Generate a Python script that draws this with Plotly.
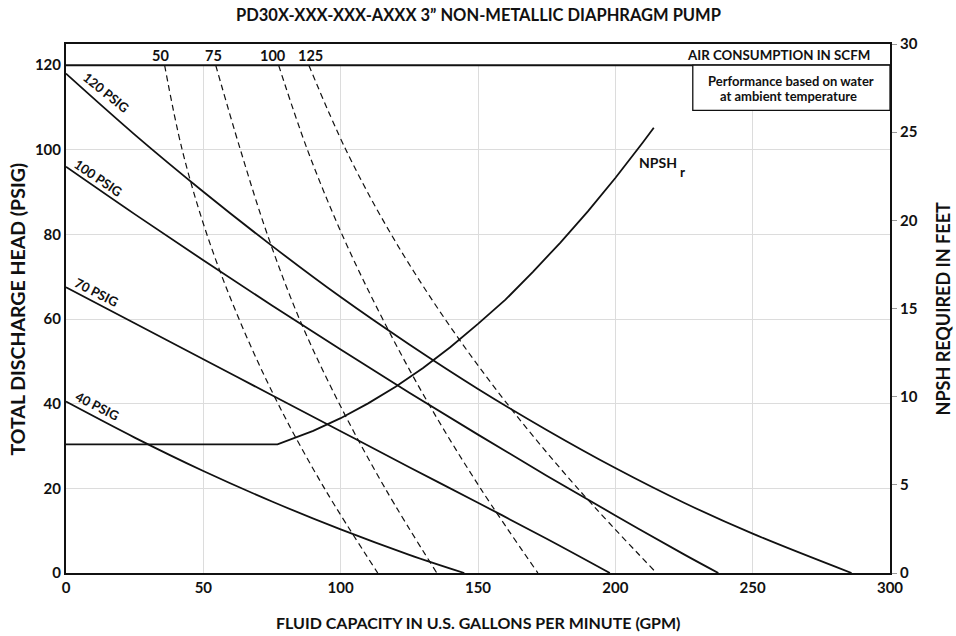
import plotly.graph_objects as go

# ---- data ----
psig120_x = [0, 25, 50, 75, 100, 125, 150, 175, 200, 225, 250, 286]
psig120_y = [118, 103.6, 90.1, 77.3, 65.2, 54.0, 43.5, 33.8, 24.8, 16.6, 9.3, 0]
psig100_x = [0, 25, 50, 75, 100, 125, 150, 175, 200, 225, 237.5]
psig100_y = [96, 84.8, 73.9, 63.2, 52.8, 42.6, 32.7, 23.0, 13.6, 4.4, 0]
psig70_x = [0, 25, 50, 75, 100, 125, 150, 175, 198]
psig70_y = [67.5, 59.0, 50.5, 42.0, 33.5, 25.0, 16.6, 8.1, 0]
psig40_x = [0, 25, 50, 75, 100, 125, 145]
psig40_y = [40.5, 32.0, 24.1, 16.9, 10.3, 4.3, 0]

air_y = [120, 100, 80, 60, 40, 20, 0]
air50_x = [35.9, 42.3, 51.3, 63.0, 77.2, 94.1, 113.5]
air75_x = [54.5, 63.5, 73.3, 85.0, 99.5, 116.2, 135.0]
air100_x = [77.4, 87.9, 100.5, 115.3, 132.0, 150.9, 171.8]
air125_x = [88.4, 101.9, 118.4, 138.0, 160.6, 186.3, 215.0]

npsh_x = [0, 77, 90, 100, 110, 120, 130, 140, 150, 160, 170, 180, 190, 200, 210, 214]
npsh_y = [7.3, 7.3, 8.06, 8.78, 9.62, 10.56, 11.63, 12.82, 14.13, 15.5, 17.08, 18.74, 20.51, 22.4, 24.41, 25.25]

x_ticks = [0, 50, 100, 150, 200, 250, 300]
y_ticks = [0, 20, 40, 60, 80, 100, 120]
y2_ticks = [0, 5, 10, 15, 20, 25, 30]

psig_labels = ["120 PSIG", "100 PSIG", "70 PSIG", "40 PSIG"]
psig_label_x = [14.4, 11.8, 11.0, 11.5]
psig_label_y = [113.6, 93.3, 66.3, 39.5]
psig_label_angle = [39, 34, 27, 27]

air_labels = ["50", "75", "100", "125"]
air_label_x = [34.4, 53.7, 75.2, 89.0]

FONT = "Lato"
BLACK = "#111111"

fig = go.Figure()

for xs, ys in [(psig120_x, psig120_y), (psig100_x, psig100_y),
               (psig70_x, psig70_y), (psig40_x, psig40_y)]:
    fig.add_trace(go.Scatter(x=xs, y=ys, mode="lines",
                             line=dict(color=BLACK, width=1.8, shape="spline", smoothing=1),
                             showlegend=False, hoverinfo="skip"))

for xs in [air50_x, air75_x, air100_x, air125_x]:
    fig.add_trace(go.Scatter(x=xs, y=air_y, mode="lines",
                             line=dict(color=BLACK, width=1.2, dash="6px,4px", shape="spline", smoothing=1),
                             showlegend=False, hoverinfo="skip"))

fig.add_trace(go.Scatter(x=npsh_x, y=npsh_y, yaxis="y2", mode="lines",
                         line=dict(color=BLACK, width=1.8),
                         showlegend=False, hoverinfo="skip"))

tickfont = dict(family=FONT, size=15, color=BLACK, weight="bold")

fig.update_layout(
    width=956, height=636,
    margin=dict(l=66, r=66, t=44, b=63),
    paper_bgcolor="white", plot_bgcolor="white",
    xaxis=dict(range=[0, 300], tickvals=x_ticks, showgrid=True, gridcolor="#dcdcdc", gridwidth=1,
               zeroline=False, showline=True, linecolor=BLACK, linewidth=2, mirror=True,
               ticks="", tickfont=tickfont, fixedrange=True),
    yaxis=dict(range=[0, 125], tickvals=y_ticks, showgrid=True, gridcolor="#dcdcdc", gridwidth=1,
               zeroline=False, showline=True, linecolor=BLACK, linewidth=2, mirror=True,
               ticks="", tickfont=tickfont, fixedrange=True),
    yaxis2=dict(range=[0, 30], tickvals=y2_ticks, overlaying="y", side="right", showgrid=False,
                zeroline=False, showline=True, linecolor=BLACK, linewidth=2,
                ticks="outside", ticklen=5, tickcolor="#999999", tickfont=tickfont, fixedrange=True),
)

# air band (white over gridlines) and separator line at 120
fig.add_shape(type="rect", xref="x", yref="y", x0=0, x1=300, y0=120, y1=125,
              fillcolor="white", line=dict(width=0), layer="between")
fig.add_shape(type="line", xref="x", yref="y", x0=0, x1=300, y0=120, y1=120,
              line=dict(color=BLACK, width=2), layer="above")
# performance box
fig.add_shape(type="rect", xref="x", yref="y", x0=228.2, x1=300, y0=109.3, y1=120,
              fillcolor="white", line=dict(color=BLACK, width=1.3), layer="above")

ann = []
for t, x, y, a in zip(psig_labels, psig_label_x, psig_label_y, psig_label_angle):
    ann.append(dict(text=t, x=x, y=y, xref="x", yref="y", showarrow=False, textangle=a,
                    font=dict(family=FONT, size=13, color=BLACK, weight="bold")))
for t, x in zip(air_labels, air_label_x):
    ann.append(dict(text=t, x=x, y=122.4, xref="x", yref="y", showarrow=False,
                    font=dict(family=FONT, size=14.5, color=BLACK, weight="bold")))
ann.append(dict(text="AIR CONSUMPTION IN SCFM", x=293.4, y=122.4, xref="x", yref="y", xanchor="right",
                showarrow=False, font=dict(family=FONT, size=13.3, color=BLACK, weight="bold")))
ann.append(dict(text="Performance based on water", x=264, y=116.3,
                xref="x", yref="y", showarrow=False,
                font=dict(family=FONT, size=13, color=BLACK, weight="bold")))
ann.append(dict(text="at ambient temperature", x=263, y=112.8,
                xref="x", yref="y", showarrow=False,
                font=dict(family=FONT, size=13, color=BLACK, weight="bold")))
ann.append(dict(text="NPSH", x=207.8, y=23.3, xref="x", yref="y2", xanchor="left",
                showarrow=False, font=dict(family=FONT, size=14, color=BLACK, weight="bold")))
ann.append(dict(text="r", x=224.3, y=22.75, xref="x", yref="y2", xanchor="center",
                showarrow=False, font=dict(family=FONT, size=13.5, color=BLACK, weight="bold")))
ann.append(dict(text="PD30X-XXX-XXX-AXXX 3\u201d NON-METALLIC DIAPHRAGM PUMP", x=0.5, y=1.0548,
                xref="paper", yref="paper", showarrow=False, yanchor="middle",
                font=dict(family=FONT, size=16.5, color=BLACK, weight="bold")))
ann.append(dict(text="FLUID CAPACITY IN U.S. GALLONS PER MINUTE (GPM)", x=0.5, y=-0.0945,
                xref="paper", yref="paper", showarrow=False, yanchor="middle",
                font=dict(family=FONT, size=16, color=BLACK, weight="bold")))
ann.append(dict(text="TOTAL DISCHARGE HEAD (PSIG)", x=-0.0583, y=0.5, xref="paper", yref="paper",
                showarrow=False, textangle=-90, xanchor="center", yanchor="middle",
                font=dict(family=FONT, size=19.5, color=BLACK, weight="bold")))
ann.append(dict(text="NPSH REQUIRED IN FEET", x=1.0643, y=0.5, xref="paper", yref="paper",
                showarrow=False, textangle=-90, xanchor="center", yanchor="middle",
                font=dict(family=FONT, size=18, color=BLACK, weight="bold")))
fig.update_layout(annotations=ann)

fig.write_html("out.html", config={"displayModeBar": False},
               post_script="document.body.style.margin='0px';document.body.style.padding='0px';")
